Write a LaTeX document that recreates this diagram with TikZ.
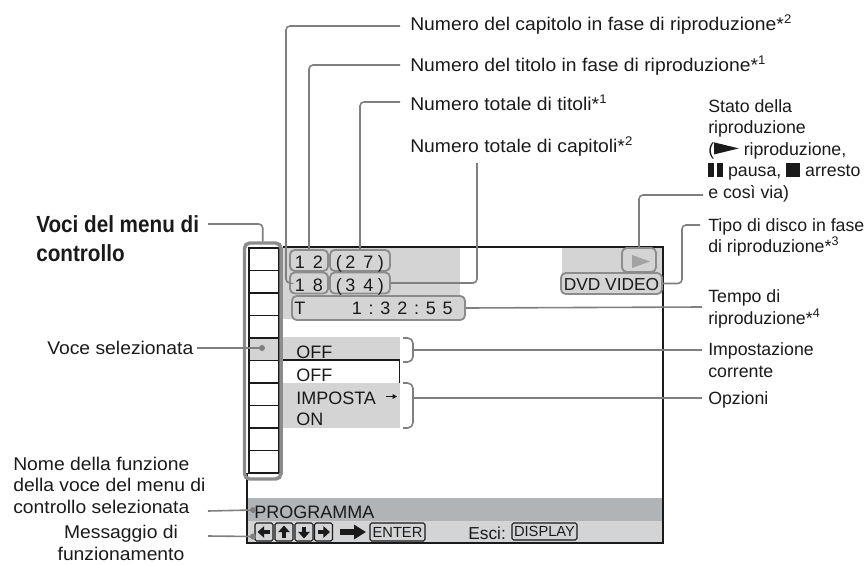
\documentclass[tikz,border=0pt]{standalone}
\usepackage{fontspec}
\setmainfont{Liberation Sans}
\newfontfamily\lblfont{Liberation Sans}[FakeStretch=1.05]
\newfontfamily\condbold{Liberation Sans Bold}[FakeStretch=0.886]
\usetikzlibrary{arrows.meta,calc}
\definecolor{scrgrey}{HTML}{D4D4D4}
\definecolor{bardark}{HTML}{B1B4B6}
\definecolor{barlight}{HTML}{D3D4D5}
\definecolor{leadc}{HTML}{7F7F7F}
\definecolor{rim}{HTML}{8C8C8C}
\definecolor{ink}{HTML}{1A1A1A}
\definecolor{playgrey}{HTML}{A3A3A3}
\newcommand\fnm[1]{*\raisebox{5.2pt}{\fontsize{9.4}{9.4}\selectfont #1}}
\newcommand\gp{\hspace{6pt}}
\newcommand\tgp{\hspace{5.1pt}}
\newcommand\playsym{\tikz[baseline=0pt]\fill[ink] (0pt,0.5pt) -- (0pt,9.5pt) -- (18.5pt,5pt) -- cycle;}
\newcommand\pausesym{\rule{4.6pt}{9.8pt}\hspace{2pt}\rule{4.6pt}{9.8pt}}
\newcommand\stopsym{\rule{10.5pt}{10.5pt}}
\begin{document}
\begin{tikzpicture}[x=0.75pt,y=-0.75pt,
  lbl/.style={anchor=base west, inner sep=0pt, align=left, text=ink, font=\lblfont\fontsize{13.8}{16}\selectfont},
  rlbl/.style={anchor=base west, inner sep=0pt, align=left, text=ink, font=\fontsize{13.3}{16.1}\selectfont},
  scr/.style={anchor=base west, inner sep=0pt, text=ink, font=\fontsize{13.5}{16}\selectfont},
  lead/.style={draw=leadc, line width=1.2pt, rounded corners=3pt},
  dbox/.style={draw=rim, line width=1.4pt, rounded corners=3.5pt, fill=scrgrey, inner sep=0pt},
  keyb/.style={draw=ink, line width=0.8pt, rounded corners=1.2pt, fill=barlight, inner sep=0pt, minimum height=13.5pt, text=ink, font=\fontsize{11}{11}\selectfont},
  keyarrow/.style={ink, line width=2.6pt, -{Triangle[length=5pt,width=8.5pt]}},
  dot/.style={circle, fill=leadc, inner sep=0pt, minimum size=4.5pt}]
\useasboundingbox (0,0) rectangle (867,564);

% ---- screen fills
\fill[scrgrey] (283,248) rectangle (460,319);
\fill[scrgrey] (562,248) rectangle (662,273);
\fill[scrgrey] (283,337) rectangle (400,360);
\fill[scrgrey] (283,383) rectangle (400,428);
\fill[bardark] (248,498) rectangle (662,521);
\fill[barlight] (248,521) rectangle (662,543);
\draw[ink, line width=0.8pt] (283,360) -- (399.5,360) -- (399.5,383);
% ---- screen frame
\draw[ink, line width=1.5pt] (283,247) -- (663,247) -- (663,543) -- (247,543) -- (247,473);

% ---- menu column
\fill[scrgrey] (249,337) rectangle (279,360);
\draw[ink, line width=0.8pt] (249,248) rectangle (279,473);
\foreach \k in {1,...,9} \draw[ink, line width=0.8pt] (249,248+22.5*\k) -- (279,248+22.5*\k);
\node[draw=rim, line width=2.6pt, rounded corners=4pt, inner sep=0pt, minimum width=27.4pt, minimum height=177pt] (col) at (262.75,361) {};

% ---- number boxes
\node[dbox, minimum width=28.5pt, minimum height=15.75pt] (b12) at (309,260.5) {};
\node[dbox, minimum width=45pt, minimum height=15.75pt] (b27) at (360,260.5) {};
\node[dbox, minimum width=28.5pt, minimum height=15.75pt] (b18) at (309,283) {};
\node[dbox, minimum width=45pt, minimum height=15.75pt] (b34) at (360,283) {};
\node[dbox, minimum width=129.75pt, minimum height=18pt] (bT) at (378.5,308) {};
\node[dbox, minimum width=25.5pt, minimum height=18pt] (bplay) at (639,260) {};
\node[dbox, minimum width=75.75pt, minimum height=15.75pt] (bdvd) at (611.5,283.5) {};
\fill[playgrey] (632,255) -- (632,268) -- (650,261.5) -- cycle;

\node[scr, anchor=base] (t12) at (309,268) {1\gp 2};
\node[scr, anchor=base] (t27) at (360,268) {(\hspace{2.5pt}2\gp 7\hspace{3.5pt})};
\node[scr, anchor=base] (t18) at (309,291.5) {1\gp 8};
\node[scr, anchor=base] (t34) at (360,291.5) {(\hspace{2.5pt}3\gp 4\hspace{3.5pt})};
\node[scr] (tT) at (294,314.5) {T};
\node[scr, anchor=base east] (ttime) at (453,314.5) {1\tgp:\tgp3\tgp2\tgp:\tgp5\tgp5};
\node[scr, anchor=base, font=\fontsize{13}{16}\selectfont] (tdvd) at (611.5,290.5) {DVD VIDEO};

% ---- settings rows
\node[scr] (toff1) at (296,358) {OFF};
\node[scr] (toff2) at (296,381) {OFF};
\node[scr] (timp) at (296,404) {IMPOSTA};
\node[scr] (ton) at (296,425.5) {ON};
\draw[ink, line width=0.7pt, -{Triangle[length=3.2pt,width=3.4pt]}] (386,396.5) -- (397,396.5);
\draw[leadc, line width=1.2pt, rounded corners=4pt] (403,338) -- (413,338) -- (413,362) -- (403,362);
\draw[leadc, line width=1.2pt, rounded corners=4pt] (403,383) -- (413,383) -- (413,428) -- (403,428);
\coordinate (br1) at (413,350);
\coordinate (br2) at (413,398);

% ---- bottom bar
\node[scr] (tprog) at (254,518.5) {PROGRAMMA};
\node[keyb, minimum width=13.5pt] (k1) at (264,532) {};
\node[keyb, minimum width=13.5pt] (k2) at (284,532) {};
\node[keyb, minimum width=13.5pt] (k3) at (304,532) {};
\node[keyb, minimum width=13.5pt] (k4) at (323.5,532) {};
\draw[keyarrow] ($(k1)+(5.5,0)$) -- ($(k1)+(-6.5,0)$);
\draw[keyarrow] ($(k2)+(0,5.5)$) -- ($(k2)+(0,-6.5)$);
\draw[keyarrow] ($(k3)+(0,-5.5)$) -- ($(k3)+(0,6.5)$);
\draw[keyarrow] ($(k4)+(-5.5,0)$) -- ($(k4)+(6.5,0)$);
\coordinate (bigA) at (340,532);
\coordinate (bigB) at (366,532);
\draw[ink, line width=4.2pt, -{Triangle[length=9pt,width=10.5pt]}] (bigA) -- (bigB);
\node[keyb, minimum width=41.25pt] (kenter) at (397.5,532) {ENTER};
\node[scr, font=\fontsize{13}{16}\selectfont] (tesci) at (468,539) {Esci:};
\node[keyb, minimum width=48.75pt, minimum height=12.75pt] (kdisp) at (544.5,531.5) {DISPLAY};

% ---- labels (multi-line nodes: base = last line)
\node[lbl] (lcap) at (410,30) {Numero del capitolo in fase di riproduzione\fnm{2}};
\node[lbl] (ltit) at (410,71) {Numero del titolo in fase di riproduzione\fnm{1}};
\node[lbl] (ltot) at (410,110) {Numero totale di titoli\fnm{1}};
\node[lbl] (ltotc) at (410,152) {Numero totale di capitoli\fnm{2}};
\node[rlbl] (lstato) at (708,198) {Stato della\\riproduzione\\(\playsym{} riproduzione,\\\pausesym{} pausa, \stopsym{} arresto\\e così via)};
\node[rlbl] (ltipo) at (708,252.5) {Tipo di disco in fase\\di riproduzione\fnm{3}};
\node[rlbl] (ltempo) at (708,324) {Tempo di\\riproduzione\fnm{4}};
\node[rlbl] (limp) at (708,377) {Impostazione\\corrente};
\node[rlbl] (lopz) at (708,404) {Opzioni};
\node[lbl, font=\condbold\fontsize{17.5}{21.75}\selectfont] (lvoci) at (36,261) {Voci del menu di\\controllo};
\node[lbl] (lsel) at (47,354) {Voce selezionata};
\node[lbl] (lnome) at (13,513) {Nome della funzione\\della voce del menu di\\controllo selezionata};
\node[lbl, anchor=base, align=center] (lmsg) at (121,560) {Messaggio di\\funzionamento};

% ---- dots
\node[dot] (dsel) at (262,348) {};
\node[dot] (dnome) at (253,510) {};
\node[dot] (dmsg) at (253,536.5) {};

% ---- connector ends
\coordinate (c1) at (400,26);
\coordinate (c2) at (400,65);
\coordinate (c3) at (400,102);
\coordinate (c4) at (477,163);
\coordinate (c5) at (703,195);
\coordinate (c6) at (700,225);
\coordinate (c7) at (702,307);
\coordinate (c8) at (702,350);
\coordinate (c9) at (702,398);
\coordinate (c10) at (208,224);
\coordinate (c11) at (197,348);
\coordinate (c12) at (208,511);
\coordinate (c13) at (208,536);

% ---- connectors
\draw[lead] (c1) -| (286,283) -- (b18.west);
\draw[lead] (c2) -| (b12.north);
\draw[lead] (c3) -| (b27.north);
\draw[lead] (c4) |- (b34.east);
\draw[lead] (c5) -| (bplay.north);
\draw[lead] (c6) -| (682,283.5) -- (bdvd.east);
\draw[lead] (c7) -- (bT.east);
\draw[lead] (c8) -- (br1);
\draw[lead] (c9) -- (br2);
\draw[lead] (c10) -| (col.north);
\draw[lead] (c11) -- (dsel.center);
\draw[lead] (c12) -- (dnome.center);
\draw[lead] (c13) -- (dmsg.center);
\end{tikzpicture}
\end{document}
